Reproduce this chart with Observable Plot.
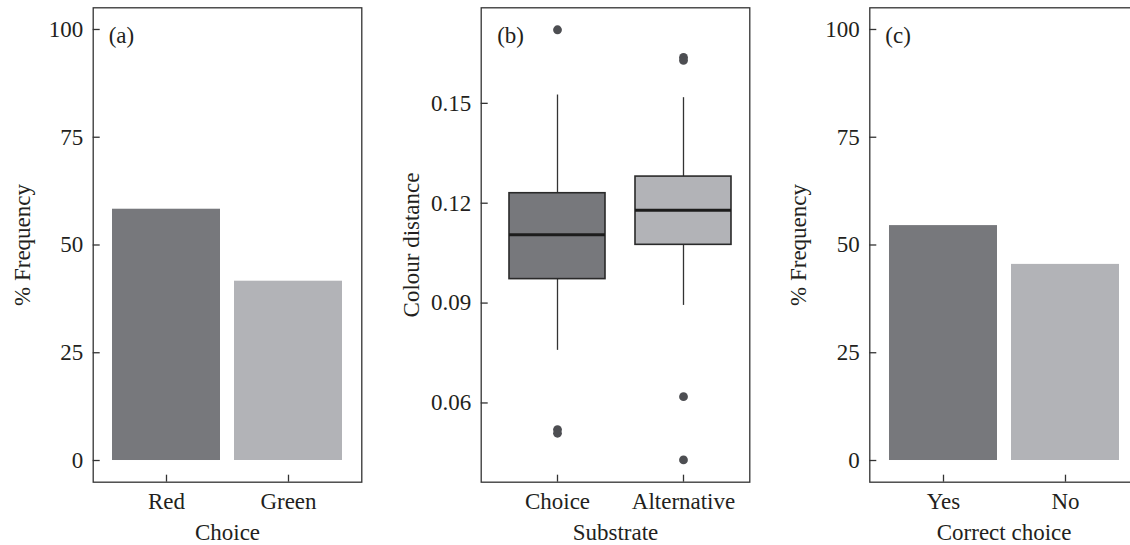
<!DOCTYPE html>
<html><head><meta charset="utf-8">
<script src="https://cdn.jsdelivr.net/npm/d3@7"></script>
<script src="https://cdn.jsdelivr.net/npm/@observablehq/plot@0.6"></script>
<style>
html,body{margin:0;padding:0;background:#fff;}
#wrap{position:relative;width:1130px;height:545px;overflow:hidden;background:#fff;}
#wrap > svg{position:absolute;top:0;}
</style></head><body><div id="wrap"></div>
<script>
// ---- data ----
const choiceCategories = ["Red", "Green"];
const choicePercent = [58.3, 41.6];
const correctCategories = ["Yes", "No"];
const correctPercent = [54.5, 45.5];
const substrates = ["Choice", "Alternative"];
const whiskerLow = [0.0758, 0.0893];
const quartile1 = [0.0972, 0.1075];
const medians = [0.1105, 0.1179];
const quartile3 = [0.1230, 0.1280];
const whiskerHigh = [0.1525, 0.1517];
const outlierSubstrate = ["Choice", "Choice", "Choice", "Alternative", "Alternative", "Alternative", "Alternative"];
const outlierValue = [0.1721, 0.0520, 0.0509, 0.1638, 0.1629, 0.0619, 0.0429];
const percentTicks = [0, 25, 50, 75, 100];
const distanceTicks = [0.06, 0.09, 0.12, 0.15];
const panelLetters = ["(a)", "(b)", "(c)"];

// ---- style ----
const SHADES = ["#77787c", "#b2b3b7"], INK = "#231f20", LINE = "#333333";
const FONT = "'Liberation Serif', 'DejaVu Serif', serif";
const innerW = 268.6, H = 545, mTop = 7.3, mBottom = 545 - 481.7;
const wrap = document.getElementById("wrap");

function baseStyle() {
  return {fontFamily: FONT, fontSize: "23px", color: INK, background: "transparent", overflow: "visible"};
}

function barPanel(cats, vals, letter, xLabel, left, marginLeft) {
  const rows = cats.map((c, i) => ({cat: c, pct: vals[i]}));
  const chart = Plot.plot({
    width: marginLeft + innerW + 10, height: H,
    marginLeft, marginRight: 10, marginTop: mTop, marginBottom: mBottom,
    style: baseStyle(),
    x: {domain: cats, paddingInner: 0.115, paddingOuter: 0.158, align: 0.5},
    y: {domain: [-5.03, 105.03]},
    marks: [
      Plot.barY(rows, {x: "cat", y: "pct", fill: (d, i) => SHADES[i]}),
      Plot.frame({stroke: LINE, strokeWidth: 1.3}),
      Plot.axisY({ticks: percentTicks, tickSize: -7, tickPadding: 17, stroke: LINE, strokeWidth: 1.3,
        label: "% Frequency", labelAnchor: "center", labelOffset: 80, labelArrow: "none"}),
      Plot.axisX({tickSize: -7, tickPadding: 17, stroke: LINE, strokeWidth: 1.3,
        label: xLabel, labelAnchor: "center", labelOffset: 58, labelArrow: "none"}),
      Plot.text([letter], {frameAnchor: "top-left", dx: 15.5, dy: 28, textAnchor: "start", lineAnchor: "middle", fill: INK})
    ]
  });
  chart.style.left = left + "px";
  wrap.appendChild(chart);
}

function boxPanel(left, marginLeft) {
  const stats = substrates.map((s, i) => ({sub: s, lo: whiskerLow[i], q1: quartile1[i], med: medians[i], q3: quartile3[i], hi: whiskerHigh[i]}));
  const outliers = outlierValue.map((v, i) => ({sub: outlierSubstrate[i], v}));
  const chart = Plot.plot({
    width: marginLeft + innerW + 10, height: H,
    marginLeft, marginRight: 10, marginTop: mTop, marginBottom: mBottom,
    style: baseStyle(),
    x: {domain: substrates, paddingInner: 0.238, paddingOuter: 0.18, align: 0.614},
    y: {domain: [0.0362, 0.1787]},
    marks: [
      Plot.ruleX(stats, {x: "sub", y1: "lo", y2: "q1", stroke: LINE, strokeWidth: 1.3}),
      Plot.ruleX(stats, {x: "sub", y1: "q3", y2: "hi", stroke: LINE, strokeWidth: 1.3}),
      Plot.barY(stats, {x: "sub", y1: "q1", y2: "q3", fill: (d, i) => SHADES[i], stroke: "#2a2a2a", strokeWidth: 1.6}),
      Plot.tickY(stats, {x: "sub", y: "med", stroke: "#1c1c1c", strokeWidth: 3}),
      Plot.dot(outliers, {x: "sub", y: "v", r: 4.4, fill: "#4d4e52", stroke: "none"}),
      Plot.frame({stroke: LINE, strokeWidth: 1.3}),
      Plot.axisY({ticks: distanceTicks, tickFormat: d3.format(".2f"), tickSize: -7, tickPadding: 17, stroke: LINE, strokeWidth: 1.3,
        label: "Colour distance", labelAnchor: "center", labelOffset: 79, labelArrow: "none"}),
      Plot.axisX({tickSize: -7, tickPadding: 17, stroke: LINE, strokeWidth: 1.3,
        label: "Substrate", labelAnchor: "center", labelOffset: 58, labelArrow: "none"}),
      Plot.text([panelLetters[1]], {frameAnchor: "top-left", dx: 16, dy: 28, textAnchor: "start", lineAnchor: "middle", fill: INK})
    ]
  });
  chart.style.left = left + "px";
  wrap.appendChild(chart);
}

barPanel(choiceCategories, choicePercent, panelLetters[0], "Choice", 0, 92.7);
boxPanel(390, 90.7);
barPanel(correctCategories, correctPercent, panelLetters[2], "Correct choice", 780, 89.3);
</script></body></html>
